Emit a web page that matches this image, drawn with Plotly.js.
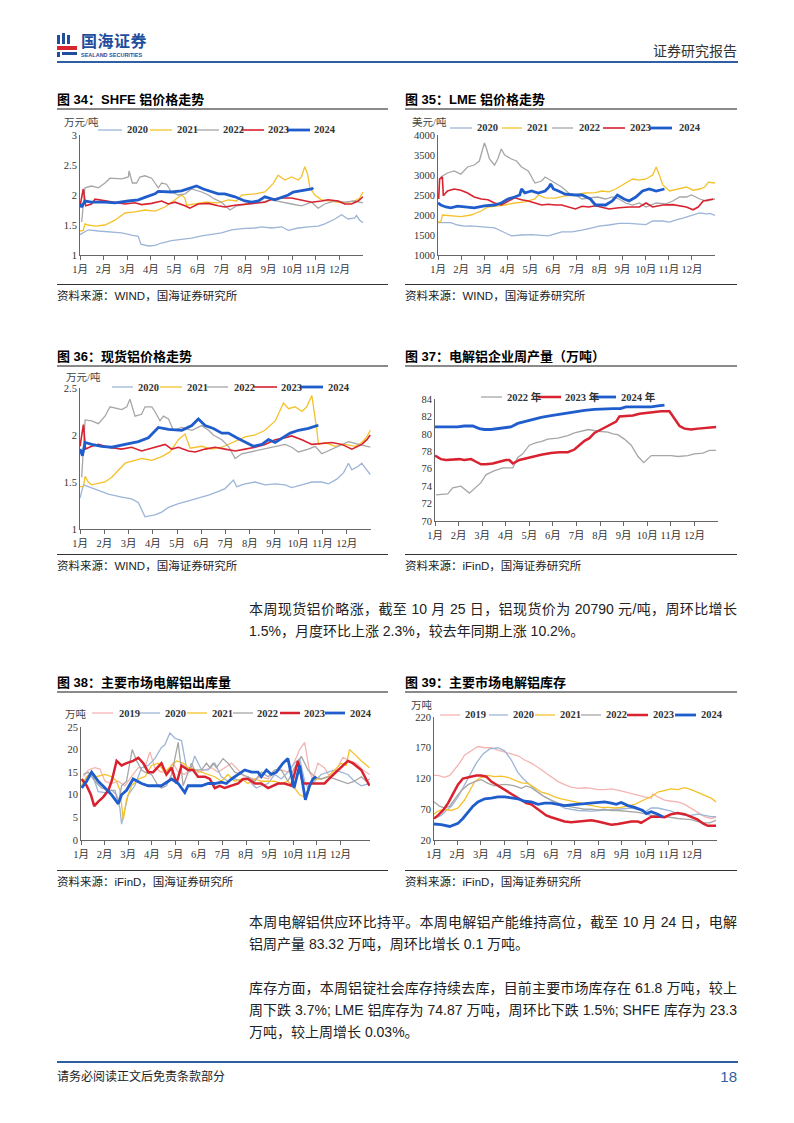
<!DOCTYPE html>
<html><head><meta charset="utf-8">
<script src="https://cdn.plot.ly/plotly-3.0.1.min.js"></script>
<style>
body{margin:0;background:#fff;}
#page{position:relative;width:794px;height:1123px;overflow:hidden;font-family:"Liberation Sans","Noto Sans CJK SC",sans-serif;color:#111;}
.abs{position:absolute;}
.ttl{position:absolute;font-weight:bold;font-size:13px;line-height:16px;white-space:nowrap;color:#000;}
.src{position:absolute;font-size:11.5px;line-height:14px;white-space:nowrap;color:#222;}
.hl{position:absolute;height:2px;background:#8a8a8a;}
.sl{position:absolute;height:1px;background:#333;}
.para{position:absolute;left:249px;width:488px;font-size:14px;line-height:22px;text-align:justify;text-align-last:left;color:#222;}
.chart{position:absolute;}
</style></head>
<body><div id="page">
<!-- header -->
<div class="abs" style="left:57px;top:35px;width:3px;height:9px;background:#1f4e9c"></div>
<div class="abs" style="left:62px;top:33px;width:3px;height:11px;background:#1f4e9c"></div>
<div class="abs" style="left:67px;top:35px;width:3px;height:9px;background:#1f4e9c"></div>
<div class="abs" style="left:57px;top:46px;width:20px;height:4px;background:#d9252f"></div>
<div class="abs" style="left:57px;top:52px;width:3px;height:5px;background:#1f4e9c"></div>
<div class="abs" style="left:62px;top:52px;width:15px;height:3px;background:#1f4e9c"></div>
<div class="abs" style="left:81px;top:33px;font-size:16px;font-weight:bold;color:#1f4e9c;line-height:18px;letter-spacing:0.5px">国海证券</div>
<div class="abs" style="left:81px;top:52px;font-size:5.5px;color:#1f4e9c;line-height:6px;font-weight:bold">SEALAND SECURITIES</div>
<div class="abs" style="left:653px;top:43px;font-size:14px;color:#333;line-height:16px">证券研究报告</div>
<div class="abs" style="left:57px;top:61px;width:681px;height:2px;background:#2e5fa3"></div>

<!-- row 1 -->
<div class="ttl" style="left:57px;top:92px">图 34：SHFE 铝价格走势</div>
<div class="hl" style="left:57px;top:108px;width:331px"></div>
<div class="ttl" style="left:405px;top:92px">图 35：LME 铝价格走势</div>
<div class="hl" style="left:405px;top:108px;width:332px"></div>
<div id="c34" class="chart" style="left:55px;top:112px;width:335px;height:170px"></div>
<div id="c35" class="chart" style="left:400px;top:112px;width:340px;height:170px"></div>
<div class="sl" style="left:57px;top:284px;width:331px"></div>
<div class="sl" style="left:405px;top:284px;width:332px"></div>
<div class="src" style="left:57px;top:289px">资料来源：WIND，国海证券研究所</div>
<div class="src" style="left:405px;top:289px">资料来源：WIND，国海证券研究所</div>

<!-- row 2 -->
<div class="ttl" style="left:57px;top:349px">图 36：现货铝价格走势</div>
<div class="hl" style="left:57px;top:365px;width:331px"></div>
<div class="ttl" style="left:405px;top:349px">图 37：电解铝企业周产量（万吨）</div>
<div class="hl" style="left:405px;top:365px;width:332px"></div>
<div id="c36" class="chart" style="left:55px;top:368px;width:335px;height:185px"></div>
<div id="c37" class="chart" style="left:400px;top:368px;width:340px;height:185px"></div>
<div class="sl" style="left:57px;top:554px;width:331px"></div>
<div class="sl" style="left:405px;top:554px;width:332px"></div>
<div class="src" style="left:57px;top:559px">资料来源：WIND，国海证券研究所</div>
<div class="src" style="left:405px;top:559px">资料来源：iFinD，国海证券研究所</div>

<div class="para" style="top:598px">本周现货铝价略涨，截至 10 月 25 日，铝现货价为 20790 元/吨，周环比增长 1.5%，月度环比上涨 2.3%，较去年同期上涨 10.2%。</div>

<!-- row 3 -->
<div class="ttl" style="left:57px;top:675px">图 38：主要市场电解铝出库量</div>
<div class="hl" style="left:57px;top:691px;width:331px"></div>
<div class="ttl" style="left:405px;top:675px">图 39：主要市场电解铝库存</div>
<div class="hl" style="left:405px;top:691px;width:332px"></div>
<div id="c38" class="chart" style="left:55px;top:694px;width:335px;height:174px"></div>
<div id="c39" class="chart" style="left:400px;top:694px;width:340px;height:174px"></div>
<div class="sl" style="left:57px;top:870px;width:331px"></div>
<div class="sl" style="left:405px;top:870px;width:332px"></div>
<div class="src" style="left:57px;top:875px">资料来源：iFinD，国海证券研究所</div>
<div class="src" style="left:405px;top:875px">资料来源：iFinD，国海证券研究所</div>

<div class="para" style="top:911px">本周电解铝供应环比持平。本周电解铝产能维持高位，截至 10 月 24 日，电解铝周产量 83.32 万吨，周环比增长 0.1 万吨。</div>
<div class="para" style="top:977px">库存方面，本周铝锭社会库存持续去库，目前主要市场库存在 61.8 万吨，较上周下跌 3.7%; LME 铝库存为 74.87 万吨，周环比下跌 1.5%; SHFE 库存为 23.3 万吨，较上周增长 0.03%。</div>

<!-- footer -->
<div class="abs" style="left:57px;top:1061px;width:681px;height:2px;background:#2e5fa3"></div>
<div class="abs" style="left:57px;top:1070px;font-size:12px;line-height:14px;color:#222">请务必阅读正文后免责条款部分</div>
<div class="abs" style="left:700px;top:1068px;width:37px;text-align:right;font-size:15px;line-height:17px;color:#2e5fa3">18</div>
</div>
<script>
// ---------------- DATA (x = month position, 0 = 1月 start) ----------------
const months = ['1月','2月','3月','4月','5月','6月','7月','8月','9月','10月','11月','12月'];
const monthTicks = [0,1,2,3,4,5,6,7,8,9,10,11];

// 图34 SHFE (万元/吨)
const shfe2020 = [[0,1.34],[0.35,1.42],[0.78,1.40],[1.06,1.39],[1.77,1.37],[2.19,1.33],[2.47,1.31],[2.58,1.18],[2.90,1.15],[3.18,1.16],[3.46,1.20],[3.88,1.24],[4.31,1.26],[4.73,1.28],[5.16,1.32],[5.58,1.35],[6.00,1.37],[6.43,1.42],[6.85,1.44],[7.42,1.45],[7.70,1.47],[8.12,1.45],[8.55,1.47],[8.83,1.41],[9.25,1.45],[9.68,1.47],[10.10,1.48],[10.38,1.52],[10.81,1.60],[11.09,1.67],[11.37,1.60],[11.65,1.62],[11.72,1.66],[11.86,1.58],[12.0,1.54]];
const shfe2021 = [[0,1.40],[0.14,1.41],[0.21,1.52],[0.35,1.50],[0.64,1.48],[1.06,1.50],[1.48,1.58],[1.91,1.70],[2.33,1.72],[2.75,1.75],[3.18,1.73],[3.60,1.80],[4.03,1.92],[4.31,2.00],[4.45,1.95],[4.52,1.83],[4.87,1.85],[5.30,1.88],[5.86,1.87],[6.29,1.92],[6.64,1.90],[6.85,2.00],[7.42,2.02],[7.84,2.05],[8.19,2.19],[8.40,2.33],[8.69,2.25],[8.97,2.30],[9.25,2.25],[9.39,2.30],[9.53,2.47],[9.65,2.35],[9.75,2.12],[9.96,2.00],[10.24,1.92],[10.66,1.90],[11.09,1.87],[11.37,1.88],[11.65,1.90],[11.86,1.95],[12.0,2.05]];
const shfe2022 = [[0.07,1.55],[0.21,2.12],[0.49,2.15],[0.78,2.12],[1.06,2.20],[1.27,2.28],[1.77,2.27],[2.05,2.30],[2.08,2.40],[2.22,2.20],[2.40,2.20],[2.54,2.30],[2.75,2.32],[3.04,2.28],[3.18,2.20],[3.32,2.12],[3.46,2.20],[3.67,2.18],[3.88,2.05],[4.17,2.00],[4.45,2.02],[4.73,2.10],[5.16,2.05],[5.44,2.00],[5.72,1.93],[6.00,1.88],[6.36,1.75],[6.64,1.82],[7.13,1.85],[7.70,1.88],[8.12,1.92],[8.55,1.88],[8.97,1.85],[9.39,1.82],[9.82,1.88],[10.10,1.78],[10.38,1.85],[10.81,1.90],[11.23,1.88],[11.65,1.90],[12.0,1.87]];
const shfe2023 = [[0,1.82],[0.14,2.10],[0.24,1.82],[0.49,1.85],[0.64,1.93],[1.06,1.90],[1.48,1.88],[1.91,1.85],[2.33,1.87],[2.61,1.84],[3.04,1.86],[3.46,1.90],[3.74,1.85],[4.03,1.88],[4.45,1.82],[4.66,1.78],[5.01,1.85],[5.44,1.86],[5.86,1.82],[6.14,1.80],[6.57,1.83],[6.99,1.85],[7.42,1.86],[7.84,1.88],[8.12,1.93],[8.55,1.95],[8.97,1.95],[9.39,1.92],[9.82,1.88],[10.24,1.90],[10.52,1.92],[10.95,1.90],[11.23,1.85],[11.51,1.85],[11.79,1.90],[12.0,1.97]];
const shfe2024 = [[0,1.85],[0.07,1.80],[0.21,1.90],[0.49,1.88],[1.06,1.88],[1.48,1.87],[2.05,1.90],[2.47,1.92],[2.75,1.96],[3.18,2.02],[3.32,2.06],[3.88,2.05],[4.31,2.07],[4.59,2.10],[4.94,2.15],[5.23,2.10],[5.58,2.05],[5.86,2.02],[6.14,2.02],[6.57,1.97],[6.99,1.90],[7.27,1.88],[7.56,1.90],[7.84,1.97],[8.26,1.92],[8.55,1.96],[8.83,2.00],[9.04,2.05],[9.39,2.07],[9.60,2.08],[9.82,2.10],[9.89,2.12]];

// 图35 LME (美元/吨)
const lme2020 = [[0,1810],[0.41,1800],[0.55,1810],[0.85,1750],[1.14,1720],[1.43,1730],[1.87,1710],[2.16,1700],[2.45,1680],[2.74,1600],[3.03,1520],[3.18,1480],[3.62,1500],[4.05,1510],[4.49,1490],[4.78,1480],[5.07,1530],[5.36,1580],[5.80,1580],[6.24,1620],[6.68,1680],[6.97,1720],[7.41,1750],[7.84,1790],[8.28,1790],[8.72,1770],[9.01,1760],[9.30,1850],[9.74,1850],[10.03,1820],[10.32,1880],[10.61,1920],[11.05,1990],[11.34,2050],[11.63,2030],[11.78,2040],[12.0,1990]];
const lme2021 = [[0,1830],[0.12,1830],[0.19,2000],[0.55,1990],[0.99,1960],[1.43,2000],[1.87,2100],[2.16,2200],[2.59,2220],[2.89,2250],[3.32,2300],[3.76,2330],[4.20,2400],[4.34,2500],[4.64,2430],[5.07,2420],[5.51,2480],[5.95,2500],[6.38,2550],[6.82,2560],[7.11,2600],[7.41,2580],[7.70,2650],[8.13,2800],[8.43,2900],[8.72,2870],[9.01,2900],[9.30,3000],[9.45,3200],[9.59,3000],[9.74,2750],[10.03,2600],[10.47,2650],[10.76,2700],[11.05,2620],[11.34,2650],[11.56,2700],[11.71,2820],[12.0,2800]];
const lme2022 = [[0.12,2950],[0.41,3050],[0.70,3100],[0.99,3020],[1.28,3200],[1.57,3250],[1.79,3350],[2.01,3800],[2.08,3700],[2.23,3400],[2.45,3250],[2.59,3400],[2.74,3650],[2.89,3500],[3.18,3400],[3.40,3350],[3.62,3200],[3.91,3100],[4.20,2800],[4.49,2850],[4.64,2950],[4.93,2850],[5.15,2780],[5.36,2700],[5.66,2550],[5.95,2500],[6.24,2400],[6.53,2420],[6.90,2450],[7.26,2400],[7.55,2450],[7.84,2400],[8.13,2300],[8.43,2250],[8.72,2300],[9.01,2200],[9.45,2300],[9.88,2280],[10.17,2350],[10.47,2450],[10.76,2450],[10.98,2500],[11.34,2400],[11.63,2350],[12.0,2400]];
const lme2023 = [[0.03,2400],[0.07,2900],[0.19,2950],[0.23,2480],[0.41,2600],[0.70,2650],[0.99,2620],[1.28,2550],[1.57,2450],[1.87,2400],[2.16,2380],[2.45,2300],[2.74,2250],[3.03,2350],[3.32,2430],[3.62,2380],[3.91,2350],[4.20,2300],[4.49,2250],[4.78,2270],[5.07,2250],[5.36,2250],[5.66,2200],[5.95,2150],[6.24,2220],[6.53,2200],[6.82,2230],[7.11,2200],[7.41,2150],[7.84,2180],[8.28,2200],[8.72,2200],[9.01,2300],[9.30,2200],[9.74,2250],[10.17,2260],[10.47,2230],[10.76,2200],[11.05,2130],[11.27,2200],[11.49,2350],[11.78,2380],[11.92,2400]];
const lme2024 = [[0,2300],[0.12,2250],[0.34,2200],[0.55,2180],[0.85,2220],[1.28,2200],[1.57,2180],[2.01,2230],[2.45,2250],[2.74,2300],[3.03,2400],[3.32,2450],[3.54,2500],[3.62,2650],[3.76,2550],[4.05,2600],[4.34,2550],[4.64,2600],[4.81,2700],[4.88,2780],[5.00,2650],[5.22,2600],[5.51,2520],[5.95,2500],[6.24,2500],[6.60,2400],[6.82,2250],[7.26,2250],[7.55,2350],[7.77,2500],[8.06,2400],[8.28,2350],[8.57,2450],[8.86,2600],[9.15,2650],[9.45,2600],[9.81,2650]];

// 图36 现货铝 (万元/吨)
const spot2020 = [[0,1.33],[0.14,1.47],[0.34,1.45],[0.76,1.41],[1.17,1.37],[1.72,1.34],[2.13,1.32],[2.41,1.28],[2.52,1.22],[2.68,1.13],[3.09,1.15],[3.37,1.18],[3.65,1.23],[4.06,1.27],[4.47,1.30],[4.88,1.33],[5.30,1.36],[5.71,1.40],[5.98,1.43],[6.33,1.52],[6.46,1.45],[6.81,1.48],[7.22,1.50],[7.63,1.47],[8.05,1.48],[8.46,1.47],[8.73,1.44],[9.15,1.47],[9.56,1.50],[9.97,1.50],[10.25,1.48],[10.59,1.53],[10.87,1.60],[11.07,1.70],[11.21,1.63],[11.49,1.67],[11.62,1.70],[11.76,1.65],[11.90,1.60],[11.97,1.58]];
const spot2021 = [[0,1.45],[0.14,1.45],[0.21,1.56],[0.34,1.50],[0.48,1.47],[1.03,1.50],[1.31,1.55],[1.58,1.62],[1.86,1.70],[2.27,1.73],[2.54,1.75],[2.96,1.73],[3.37,1.77],[3.71,1.82],[4.06,1.95],[4.33,2.01],[4.54,1.86],[5.02,1.88],[5.43,1.85],[5.85,1.87],[6.40,1.93],[6.81,1.98],[7.22,2.00],[7.63,2.05],[8.05,2.15],[8.39,2.34],[8.60,2.28],[8.87,2.30],[9.15,2.25],[9.35,2.30],[9.56,2.42],[9.70,2.20],[9.77,2.05],[9.83,1.90],[10.11,1.92],[10.52,1.88],[10.94,1.90],[11.35,1.88],[11.62,1.92],[11.83,1.98],[11.97,2.05]];
const spot2022 = [[0.07,1.55],[0.21,2.16],[0.48,2.15],[0.76,2.12],[1.03,2.20],[1.24,2.30],[1.72,2.27],[1.93,2.30],[2.06,2.38],[2.27,2.20],[2.54,2.22],[2.68,2.30],[2.96,2.30],[3.09,2.25],[3.30,2.15],[3.44,2.20],[3.65,2.17],[3.85,2.05],[4.20,2.08],[4.61,2.05],[5.02,2.10],[5.30,2.05],[5.50,2.00],[5.85,1.95],[6.12,1.88],[6.40,1.75],[6.67,1.80],[7.22,1.83],[7.63,1.85],[8.05,1.88],[8.46,1.90],[8.73,1.87],[9.01,1.82],[9.42,1.85],[9.70,1.88],[9.97,1.80],[10.39,1.85],[10.80,1.90],[11.07,1.93],[11.49,1.90],[11.97,1.87]];
const spot2023 = [[0,1.88],[0.14,2.11],[0.23,1.85],[0.48,1.88],[0.76,1.90],[1.17,1.87],[1.72,1.85],[2.13,1.87],[2.54,1.83],[2.96,1.86],[3.51,1.90],[3.78,1.85],[4.06,1.87],[4.47,1.83],[4.75,1.82],[5.16,1.85],[5.57,1.87],[5.98,1.85],[6.40,1.83],[6.81,1.85],[7.22,1.87],[7.63,1.90],[8.05,1.95],[8.46,1.97],[8.73,1.99],[9.15,1.95],[9.56,1.90],[9.97,1.91],[10.39,1.92],[10.80,1.90],[11.21,1.85],[11.62,1.90],[11.83,1.95],[11.97,2.00]];
const spot2024 = [[0,1.85],[0.10,1.78],[0.21,1.92],[0.48,1.90],[0.89,1.88],[1.31,1.87],[1.86,1.90],[2.41,1.93],[2.82,1.97],[3.23,2.08],[3.65,2.06],[4.20,2.05],[4.61,2.10],[4.88,2.17],[5.16,2.10],[5.50,2.07],[5.85,2.02],[6.12,2.02],[6.46,1.97],[6.81,1.92],[7.15,1.88],[7.50,1.90],[7.77,1.95],[8.05,1.92],[8.39,1.97],[8.67,2.02],[9.01,2.05],[9.42,2.07],[9.77,2.10],[9.83,2.10]];

// 图37 电解铝周产量 (万吨)
const prod2022 = [[0.04,73.0],[0.54,73.1],[0.75,73.8],[1.10,74.0],[1.46,73.2],[1.67,73.7],[1.95,74.4],[2.16,75.3],[2.45,75.7],[2.87,76.1],[3.30,76.1],[3.51,77.3],[3.72,77.7],[4.00,78.7],[4.29,79.0],[4.50,79.1],[4.78,79.4],[5.21,79.5],[5.63,79.8],[5.91,80.1],[6.20,80.3],[6.51,80.5],[6.90,80.3],[7.33,80.2],[7.54,80.0],[7.75,79.9],[8.03,79.4],[8.32,78.7],[8.61,77.4],[8.85,76.7],[9.17,77.5],[9.59,77.5],[10.01,77.5],[10.30,77.4],[10.72,77.5],[11.00,77.7],[11.36,77.8],[11.64,78.1],[11.92,78.1]];
const prod2023 = [[0,77.5],[0.25,77.1],[0.47,77.0],[0.82,77.1],[1.03,77.1],[1.24,77.0],[1.53,77.1],[1.74,76.8],[1.95,76.5],[2.16,76.5],[2.45,76.6],[2.73,76.8],[3.01,77.0],[3.15,77.0],[3.30,76.6],[3.58,77.0],[3.86,77.2],[4.21,77.4],[4.50,77.6],[4.92,77.8],[5.28,77.9],[5.63,77.9],[5.91,78.2],[6.12,78.7],[6.34,79.2],[6.55,79.5],[6.76,80.1],[7.04,80.5],[7.40,81.0],[7.68,81.4],[7.82,82.0],[8.17,82.1],[8.39,82.1],[8.67,82.3],[8.95,82.4],[9.24,82.5],[9.59,82.6],[9.94,82.6],[10.16,81.8],[10.37,80.9],[10.58,80.6],[10.86,80.5],[11.15,80.6],[11.43,80.7],[11.71,80.8],[11.92,80.8]];
const prod2024 = [[0,80.8],[0.25,80.8],[0.54,80.8],[0.96,80.8],[1.24,80.9],[1.60,80.9],[1.88,80.6],[2.09,80.5],[2.38,80.5],[2.66,80.6],[2.94,80.7],[3.22,80.8],[3.51,81.2],[3.93,81.5],[4.21,81.7],[4.50,81.9],[4.92,82.1],[5.35,82.3],[5.63,82.4],[5.98,82.6],[6.34,82.7],[6.76,82.8],[7.19,82.9],[7.54,82.9],[7.86,82.9],[8.10,83.1],[8.46,83.1],[8.81,83.1],[9.17,83.1],[9.45,83.2],[9.73,83.3]];

// 图38 出库量 (万吨)
const out2019 = [[0.10,14],[0.31,15.5],[0.59,16],[0.80,15.7],[1.02,13],[1.30,12.5],[1.58,13],[1.86,12],[2.14,14],[2.43,16],[2.71,16],[2.92,19.5],[3.13,16],[3.41,15],[3.70,15.5],[3.91,17],[4.12,15],[4.40,14.5],[4.68,16],[4.96,15],[5.25,15.5],[5.53,16],[5.81,15],[6.09,16],[6.38,17],[6.66,15.5],[6.94,14],[7.37,13.5],[7.64,14],[7.93,13.5],[8.21,15],[8.49,15.5],[8.77,15],[8.98,16.5],[9.27,20],[9.48,21.6],[9.69,15],[9.83,13.5],[10.04,17],[10.32,16],[10.54,14],[10.82,15.5],[11.10,18.3],[11.38,17.5],[11.66,17],[11.95,15.5],[12.23,14.5]];
const out2020 = [[0.03,12],[0.24,14],[0.45,15],[0.73,10.7],[1.02,10.5],[1.30,11],[1.51,10],[1.65,7],[1.72,3.5],[1.86,7],[2.00,10],[2.28,12],[2.57,16],[2.85,16.5],[3.13,18],[3.41,20.5],[3.55,21],[3.77,23.7],[3.98,22.5],[4.26,22],[4.47,16],[4.61,15],[4.82,18.6],[5.11,15.5],[5.39,15.5],[5.67,17],[5.95,14],[6.23,13],[6.52,13.5],[6.80,13],[7.08,14],[7.23,12.5],[7.43,11.5],[7.64,12],[7.93,12.5],[8.21,14.5],[8.49,13.5],[8.77,15],[9.05,17],[9.27,18],[9.48,13],[9.62,11.5],[9.90,13],[10.18,14.5],[10.47,15],[10.75,15.5],[11.03,15],[11.31,14.5],[11.59,13],[11.88,12],[12.23,12.5]];
const out2021 = [[0.03,12],[0.24,14],[0.45,15],[0.66,14],[1.02,14.5],[1.30,14],[1.51,13],[1.65,11],[1.79,4.5],[1.93,9],[2.14,12],[2.43,13.5],[2.71,14],[2.99,16.5],[3.27,17],[3.55,15],[3.84,16.5],[4.05,17.5],[4.33,17],[4.54,16],[4.82,15.5],[5.11,15],[5.39,14.5],[5.67,14],[5.95,13],[6.23,14.5],[6.52,13],[6.80,13.5],[7.08,12.5],[7.37,13.5],[7.64,13],[7.93,13],[8.21,13],[8.49,12.5],[8.77,13],[9.05,11.5],[9.27,10],[9.48,9.5],[9.69,12],[9.90,13.5],[10.18,13.5],[10.47,14],[10.75,15.5],[11.03,17],[11.24,16.5],[11.38,20],[11.59,19],[11.88,17.5],[12.23,16]];
const out2022 = [[0.10,14.5],[0.31,15],[0.59,13],[0.87,11.5],[1.16,11],[1.44,11],[1.58,8],[1.72,12],[1.93,13],[2.17,20],[2.36,17.5],[2.57,15.5],[2.71,15],[2.99,14.5],[3.27,12],[3.41,11.5],[3.62,12],[3.84,14.5],[4.12,21.6],[4.33,12],[4.54,15],[4.68,17],[4.82,15.5],[5.11,15.5],[5.32,17],[5.46,16],[5.60,17],[5.74,16],[5.88,17],[6.02,18],[6.23,17],[6.52,15],[6.80,14.5],[7.08,14],[7.37,13],[7.64,15],[7.93,14],[8.21,15.5],[8.49,15.5],[8.77,13],[9.05,16],[9.34,18.5],[9.62,15.5],[9.90,14],[10.18,13.5],[10.47,14],[10.75,13.5],[11.03,13],[11.31,12.5],[11.59,13],[11.88,14],[12.09,13],[12.23,13.5]];
const out2023 = [[0.03,13.5],[0.24,12],[0.42,10],[0.56,7.5],[0.73,8.5],[0.94,9.5],[1.16,11],[1.30,13],[1.51,17.5],[1.72,16.5],[1.93,17],[2.21,17.5],[2.43,18.2],[2.64,17],[2.85,15],[3.06,15],[3.41,17],[3.62,14.5],[3.84,16],[4.05,12.5],[4.26,16.5],[4.54,15.5],[4.75,15.5],[4.96,14],[5.25,14],[5.46,13.5],[5.67,11.5],[5.88,12],[6.09,11.5],[6.38,12],[6.66,12.5],[6.87,13.5],[7.08,13.5],[7.37,12.5],[7.64,12.5],[7.93,11.5],[8.14,12],[8.35,12.5],[8.63,12.5],[8.91,12],[9.20,17.5],[9.41,12.5],[9.62,12.5],[10.04,12.5],[10.32,12.5],[10.61,14],[10.82,15],[11.03,16],[11.31,17.5],[11.52,17],[11.88,15.5],[12.23,12]];
const out2024 = [[0.03,11.5],[0.24,13],[0.45,15],[0.73,13],[1.02,11.5],[1.30,10],[1.58,8],[1.72,10],[1.93,11],[2.21,13.5],[2.57,12.5],[2.85,12],[3.13,12],[3.41,12],[3.70,13],[3.84,13.5],[4.12,12.5],[4.33,11],[4.40,10.5],[4.54,12],[4.82,12],[5.11,12],[5.39,12.5],[5.67,12.5],[5.95,12.8],[6.16,12.5],[6.38,13.5],[6.66,14.5],[6.94,15.5],[7.23,15],[7.50,15],[7.64,14],[7.86,15.5],[8.07,14.5],[8.28,15],[8.56,17],[8.77,18],[9.03,11.5],[9.27,16.5],[9.51,8.9],[9.69,12],[9.83,13.5],[9.97,14]];

// 图39 库存 (万吨)
const inv2019 = [[0,125],[0.17,125],[0.45,122],[0.67,125],[0.88,135],[1.09,145],[1.30,158],[1.59,165],[1.87,172],[2.16,170],[2.44,170],[2.72,166],[3.01,163],[3.29,160],[3.57,157],[3.86,150],[4.14,145],[4.43,138],[4.71,130],[4.99,122],[5.28,115],[5.56,110],[5.84,106],[6.13,104],[6.41,105],[6.70,104],[6.98,102],[7.26,102],[7.55,103],[7.83,101],[8.11,98],[8.40,96],[8.68,93],[8.96,90],[9.25,88],[9.32,95],[9.53,90],[9.82,85],[10.10,83],[10.38,82],[10.67,78],[10.95,72],[11.23,65],[11.52,58],[11.80,55],[12.01,57]];
const inv2020 = [[0,55],[0.31,60],[0.52,68],[0.74,75],[1.02,90],[1.30,110],[1.59,130],[1.80,145],[2.09,160],[2.37,168],[2.72,170],[3.01,165],[3.29,150],[3.57,130],[3.79,120],[4.07,110],[4.35,100],[4.64,92],[4.99,85],[5.28,78],[5.56,72],[5.84,70],[6.13,68],[6.70,67],[7.26,68],[7.83,70],[8.40,72],[8.68,70],[8.96,65],[9.25,72],[9.53,72],[9.82,70],[10.10,67],[10.38,63],[10.67,60],[10.95,60],[11.23,62],[11.52,60],[11.80,58],[12.01,58]];
const inv2021 = [[0,62],[0.17,67],[0.45,70],[0.74,68],[1.02,72],[1.30,85],[1.52,100],[1.73,115],[2.01,122],[2.30,125],[2.58,123],[2.87,124],[3.15,122],[3.43,118],[3.72,113],[4.00,112],[4.28,105],[4.57,98],[4.85,95],[5.13,90],[5.42,87],[5.70,85],[5.99,82],[6.27,80],[6.55,77],[6.84,75],[7.12,73],[7.40,73],[7.69,72],[7.97,73],[8.26,75],[8.54,78],[8.82,83],[9.11,88],[9.32,92],[9.53,98],[9.82,100],[10.10,103],[10.38,102],[10.67,105],[10.95,102],[11.23,97],[11.52,93],[11.80,88],[12.01,82]];
const inv2022 = [[0,82],[0.24,75],[0.45,72],[0.67,75],[0.95,90],[1.16,100],[1.45,110],[1.73,115],[2.01,118],[2.30,112],[2.58,108],[2.87,110],[3.15,110],[3.43,108],[3.72,104],[3.93,108],[4.14,105],[4.43,98],[4.71,90],[4.99,85],[5.28,80],[5.56,76],[5.84,74],[6.13,72],[6.41,70],[6.70,70],[6.98,69],[7.26,70],[7.55,68],[7.83,68],[8.11,67],[8.40,67],[8.68,65],[8.96,63],[9.25,60],[9.53,60],[9.82,58],[10.10,57],[10.38,55],[10.67,54],[10.95,53],[11.23,50],[11.52,48],[11.73,48],[12.01,52]];
const inv2023 = [[0,55],[0.17,60],[0.38,68],[0.60,80],[0.81,95],[1.02,110],[1.23,120],[1.45,122],[1.59,123],[1.80,125],[2.01,125],[2.23,123],[2.44,115],[2.65,110],[2.87,105],[3.08,100],[3.29,95],[3.50,90],[3.72,85],[3.93,80],[4.14,78],[4.35,72],[4.57,65],[4.78,60],[4.99,57],[5.28,53],[5.56,50],[5.84,49],[6.13,50],[6.41,52],[6.70,52],[6.98,50],[7.26,48],[7.55,45],[7.83,46],[8.11,48],[8.40,50],[8.68,50],[8.82,48],[9.04,53],[9.25,58],[9.53,58],[9.82,57],[10.10,62],[10.38,64],[10.67,62],[10.95,58],[11.23,53],[11.45,47],[11.66,43],[12.01,43]];
const inv2024 = [[0,46],[0.31,45],[0.67,42],[0.88,45],[1.02,47],[1.23,55],[1.45,65],[1.66,75],[1.87,82],[2.16,87],[2.44,88],[2.72,90],[3.01,90],[3.29,88],[3.57,87],[3.86,83],[4.14,82],[4.43,78],[4.71,80],[4.99,80],[5.28,78],[5.56,76],[5.84,77],[6.13,78],[6.41,79],[6.70,80],[6.98,82],[7.26,82],[7.55,80],[7.76,78],[7.97,81],[8.26,76],[8.54,73],[8.75,70],[8.89,68],[9.04,63],[9.25,66],[9.53,62],[9.74,58]];

// ---------------- STYLE ----------------
const COL = {'2019':'#f4b5b3','2020':'#9db5d7','2021':'#f5c12a','2022':'#a6a6a6','2023':'#d8222f','2024':'#1f5dcc'};
const SERIF = '"Liberation Serif","Times New Roman","Noto Sans CJK SC",serif';

function makeChart(id, cfg) {
  const P = cfg.plot, D = cfg.div;
  const W = P.x1 - P.x0, H = P.y1 - P.y0;
  const toX = px => (px - P.x0) / W;
  const toY = py => (P.y1 - py) / H;
  const traces = cfg.series.map(s => ({
    type: 'scatter', mode: 'lines', name: s.name,
    x: s.data.map(p => p[0]), y: s.data.map(p => p[1]),
    line: {color: s.color, width: s.width}, hoverinfo: 'skip'
  }));
  const shapes = [], annotations = [];
  cfg.series.forEach((s, i) => {
    const L = cfg.legend.items[i];
    shapes.push({type:'line', xref:'paper', yref:'paper', x0: toX(L[0]), x1: toX(L[1]),
      y0: toY(cfg.legend.y), y1: toY(cfg.legend.y), line:{color:s.color, width:s.width}});
    annotations.push({xref:'paper', yref:'paper', x: toX(L[2]), y: toY(cfg.legend.y),
      xanchor:'left', yanchor:'middle', showarrow:false, text: s.label,
      font:{family:SERIF, size:10.5, color:'#333', weight:'bold'}});
  });
  if (cfg.ytitle) {
    annotations.push({xref:'paper', yref:'paper', x: toX(cfg.ytitle.x), y: toY(cfg.ytitle.y),
      xanchor:'left', yanchor:'middle', showarrow:false, text: cfg.ytitle.text,
      font:{family:SERIF, size:10.5, color:'#444'}});
  }
  const layout = {
    width: D.w, height: D.h,
    margin: {l: P.x0 - D.x, r: D.x + D.w - P.x1, t: P.y0 - D.y, b: D.y + D.h - P.y1, pad: 0},
    paper_bgcolor: 'rgba(0,0,0,0)', plot_bgcolor: 'rgba(0,0,0,0)',
    showlegend: false,
    xaxis: {range: cfg.xrange, tickvals: monthTicks, ticktext: months, tickangle: 0, showgrid:false, zeroline:false,
      showline:true, linecolor:'#666', linewidth:1, ticks:'outside', ticklen:4, tickcolor:'#666',
      tickfont:{family:SERIF, size:10.5, color:'#333'}, fixedrange:true, automargin:false},
    yaxis: {range: cfg.yrange, tickvals: cfg.yticks, showgrid:false, zeroline:false,
      showline:true, linecolor:'#666', linewidth:1, ticks:'',
      tickfont:{family:SERIF, size:10.5, color:'#333'}, fixedrange:true, automargin:false},
    shapes, annotations
  };
  Plotly.newPlot(id, traces, layout, {staticPlot:true, displayModeBar:false});
}

const thin = 1.3;
makeChart('c34', {
  div:{x:55,y:112,w:335,h:170}, plot:{x0:80,x1:363,y0:135,y1:255},
  xrange:[0,12], yrange:[1,3], yticks:[1,1.5,2,2.5,3],
  series:[
    {name:'2020',label:'2020',data:shfe2020,color:COL['2020'],width:thin},
    {name:'2021',label:'2021',data:shfe2021,color:COL['2021'],width:thin},
    {name:'2022',label:'2022',data:shfe2022,color:COL['2022'],width:thin},
    {name:'2023',label:'2023',data:shfe2023,color:COL['2023'],width:1.6},
    {name:'2024',label:'2024',data:shfe2024,color:COL['2024'],width:2.8}],
  legend:{y:130, items:[[98,122,125],[150,172,175],[196,219,221],[241,264,266],[287,310,312]]},
  ytitle:{text:'万元/吨', x:62, y:122}
});
makeChart('c35', {
  div:{x:400,y:112,w:340,h:170}, plot:{x0:438,x1:715,y0:135,y1:255},
  xrange:[0,12], yrange:[1000,4000], yticks:[1000,1500,2000,2500,3000,3500,4000],
  series:[
    {name:'2020',label:'2020',data:lme2020,color:COL['2020'],width:thin},
    {name:'2021',label:'2021',data:lme2021,color:COL['2021'],width:thin},
    {name:'2022',label:'2022',data:lme2022,color:COL['2022'],width:thin},
    {name:'2023',label:'2023',data:lme2023,color:COL['2023'],width:1.6},
    {name:'2024',label:'2024',data:lme2024,color:COL['2024'],width:2.8}],
  legend:{y:128, items:[[450,472,475],[502,522,525],[552,573,577],[603,625,628],[650,672,677]]},
  ytitle:{text:'美元/吨', x:410, y:122}
});
makeChart('c36', {
  div:{x:55,y:368,w:335,h:185}, plot:{x0:80,x1:371,y0:388,y1:529},
  xrange:[0,12], yrange:[1,2.5], yticks:[1,1.5,2,2.5],
  series:[
    {name:'2020',label:'2020',data:spot2020,color:COL['2020'],width:thin},
    {name:'2021',label:'2021',data:spot2021,color:COL['2021'],width:thin},
    {name:'2022',label:'2022',data:spot2022,color:COL['2022'],width:thin},
    {name:'2023',label:'2023',data:spot2023,color:COL['2023'],width:1.6},
    {name:'2024',label:'2024',data:spot2024,color:COL['2024'],width:2.8}],
  legend:{y:387, items:[[112,133,136],[160,182,185],[207,228,232],[254,277,279],[300,323,326]]},
  ytitle:{text:'万元/吨', x:64, y:377}
});
makeChart('c37', {
  div:{x:400,y:368,w:340,h:185}, plot:{x0:435,x1:718,y0:399,y1:521},
  xrange:[0,12], yrange:[70,84], yticks:[70,72,74,76,78,80,82,84],
  series:[
    {name:'2022年',label:'2022 年',data:prod2022,color:COL['2022'],width:thin},
    {name:'2023年',label:'2023 年',data:prod2023,color:COL['2023'],width:2.5},
    {name:'2024年',label:'2024 年',data:prod2024,color:COL['2024'],width:2.8}],
  legend:{y:397, items:[[481,502,505],[538,561,563],[593,616,619]]}
});
makeChart('c38', {
  div:{x:55,y:694,w:335,h:174}, plot:{x0:81,x1:370,y0:727,y1:840},
  xrange:[0,12.25], yrange:[0,25], yticks:[0,5,10,15,20,25],
  series:[
    {name:'2019',label:'2019',data:out2019,color:COL['2019'],width:thin},
    {name:'2020',label:'2020',data:out2020,color:COL['2020'],width:thin},
    {name:'2021',label:'2021',data:out2021,color:COL['2021'],width:thin},
    {name:'2022',label:'2022',data:out2022,color:COL['2022'],width:thin},
    {name:'2023',label:'2023',data:out2023,color:COL['2023'],width:2.5},
    {name:'2024',label:'2024',data:out2024,color:COL['2024'],width:2.8}],
  legend:{y:713, items:[[92,113,117],[140,160,163],[187,207,210],[233,253,255],[280,300,302],[325,345,348]]},
  ytitle:{text:'万吨', x:63, y:714}
});
makeChart('c39', {
  div:{x:400,y:694,w:340,h:174}, plot:{x0:434,x1:717,y0:717,y1:840},
  xrange:[0,12.05], yrange:[20,220], yticks:[20,70,120,170,220],
  series:[
    {name:'2019',label:'2019',data:inv2019,color:COL['2019'],width:thin},
    {name:'2020',label:'2020',data:inv2020,color:COL['2020'],width:thin},
    {name:'2021',label:'2021',data:inv2021,color:COL['2021'],width:thin},
    {name:'2022',label:'2022',data:inv2022,color:COL['2022'],width:thin},
    {name:'2023',label:'2023',data:inv2023,color:COL['2023'],width:2.5},
    {name:'2024',label:'2024',data:inv2024,color:COL['2024'],width:2.8}],
  legend:{y:715, items:[[440,460,463],[489,508,511],[535,555,558],[581,601,604],[627,648,651],[675,696,699]]},
  ytitle:{text:'万吨', x:409, y:705}
});
</script>
</body></html>
